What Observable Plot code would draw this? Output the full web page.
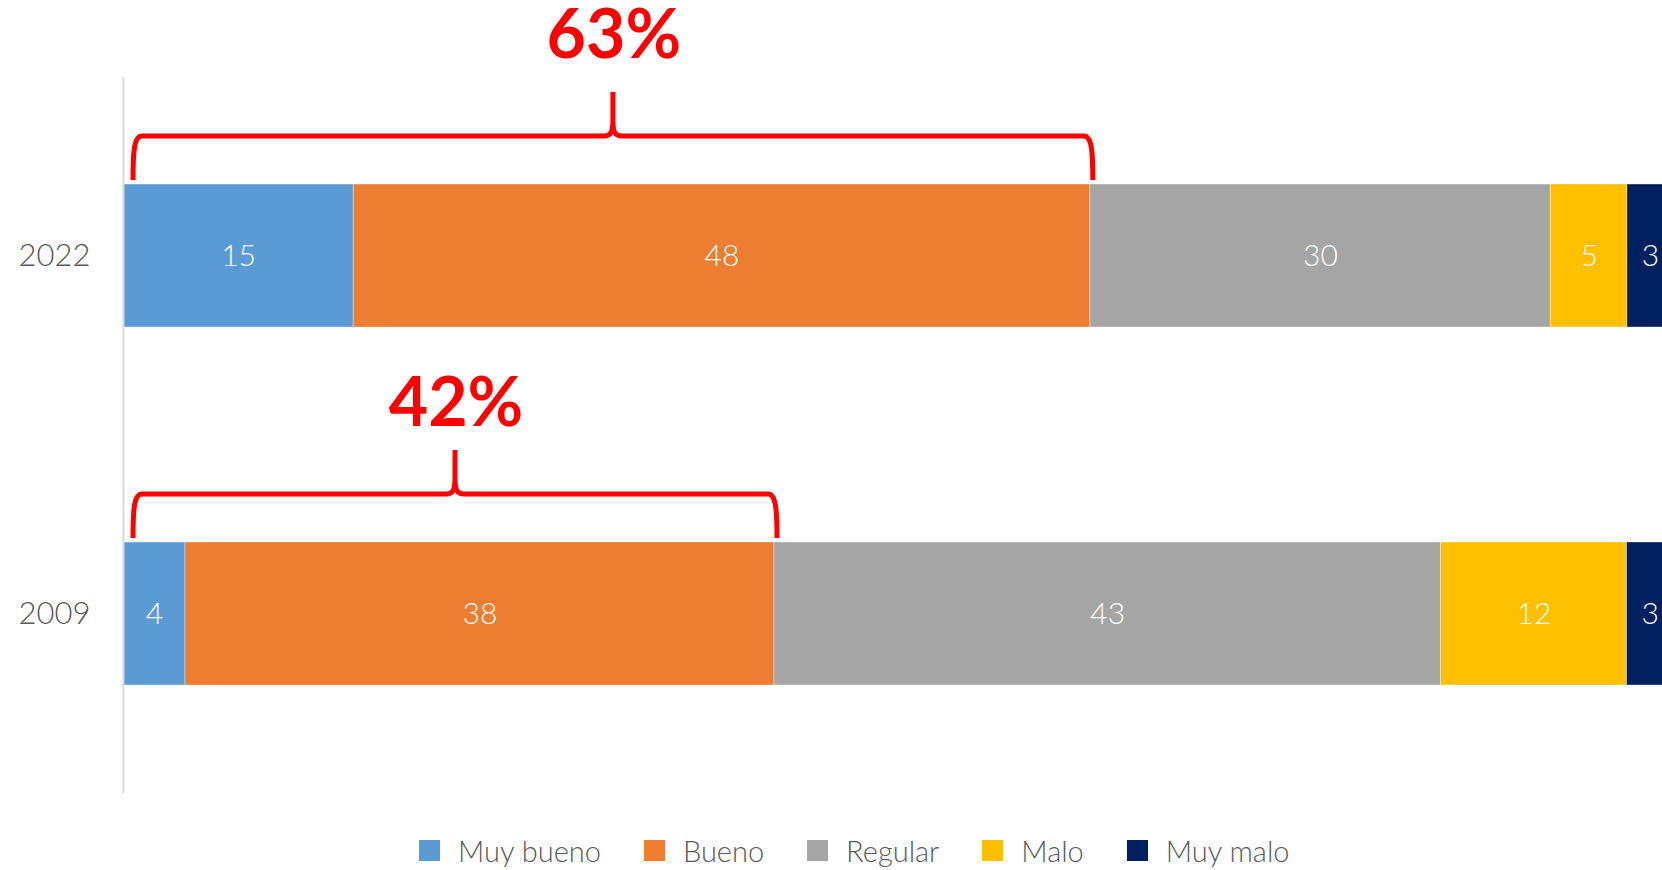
<!DOCTYPE html>
<html>
<head>
<meta charset="utf-8">
<script src="https://cdn.jsdelivr.net/npm/d3@7"></script>
<script src="https://cdn.jsdelivr.net/npm/@observablehq/plot@0.6"></script>
<style>
  html, body { margin: 0; padding: 0; background: #fff; overflow: hidden; }
  body { width: 1662px; height: 870px; font-family: Lato, "Open Sans", sans-serif; }
  #chart svg { display: block; }
  #legend { display: flex; align-items: center; height: 40px; padding-left: 419px; box-sizing: border-box; }
  .item { display: flex; align-items: center; margin-right: 43px; }
  .sw { width: 21px; height: 21px; margin-right: 18px; flex: none; }
  .lab { font-size: 29px; font-weight: 300; color: #595959; line-height: 1; }
</style>
</head>
<body>
<div id="chart"></div>
<div id="legend"></div>
<script>
// ---- data ----
const years = ["2022", "2009"];
const categories = ["Muy bueno", "Bueno", "Regular", "Malo", "Muy malo"];
const colors = ["#5B9BD5", "#ED7D31", "#A5A5A5", "#FFC000", "#002060"];
const values2022 = [15, 48, 30, 5, 3];
const values2009 = [4, 38, 43, 12, 3];

const seriesValues = [values2022, values2009];
const rows = years.flatMap((yr, i) =>
  categories.map((c, j) => ({year: yr, category: c, value: seriesValues[i][j]})));

// highlighted share: Muy bueno + Bueno
const annots = years.map((yr, i) => {
  const v = seriesValues[i];
  const total = d3.sum(v);
  const good = v[0] + v[1];
  return {year: yr, label: good + "%", end: good / total, mid: good / total / 2};
});

const RED = "#ff0000";

function bracketMark(index, scales) {
  const g = d3.create("svg:g").attr("fill", "none").attr("stroke", RED)
    .attr("stroke-width", 5).attr("stroke-linejoin", "round").attr("stroke-linecap", "butt");
  for (const a of annots) {
    const top = scales.y(a.year);
    const x0 = scales.x(0) + 10;
    const x1 = scales.x(a.end) + 3;
    const m = (x0 + x1) / 2;
    const lb = top - 4, h = top - 48, t = top - 92;
    const d =
      `M${x0},${lb} C${x0},${h + 16} ${x0 + 1},${h} ${x0 + 9},${h} L${m - 9},${h} ` +
      `C${m - 2},${h} ${m},${h - 4} ${m},${h - 16} L${m},${t} ` +
      `M${m},${h - 16} C${m},${h - 4} ${m + 2},${h} ${m + 9},${h} L${x1 - 9},${h} ` +
      `C${x1 - 1},${h} ${x1},${h + 16} ${x1},${lb}`;
    g.append("path").attr("d", d);
  }
  return g.node();
}

const chart = Plot.plot({
  width: 1662,
  height: 830,
  marginLeft: 123,
  marginRight: -11,
  marginTop: 77,
  marginBottom: 37,
  style: {fontFamily: "Lato, 'Open Sans', sans-serif", background: "#fff"},
  x: {domain: [0, 1], axis: null},
  y: {domain: years, paddingInner: 0.6, paddingOuter: 0.3, axis: null},
  color: {domain: categories, range: colors},
  marks: [
    Plot.barX(rows, Plot.stackX({
      x: "value", y: "year", fill: "category", offset: "normalize",
      stroke: "#ffffff", strokeWidth: 0.8, strokeOpacity: 0.45
    })),
    Plot.text(rows, Plot.stackX({
      x: "value", y: "year", z: "category", offset: "normalize",
      text: d => String(d.value), fill: "#ffffff", fontSize: 30, fontWeight: 300
    })),
    Plot.ruleX([0], {stroke: "#d9d9d9", strokeWidth: 2}),
    Plot.text(years, {
      x: () => 0, y: d => d, text: d => d, dx: -33, textAnchor: "end",
      fill: "#595959", fontSize: 31, fontWeight: 300
    }),
    bracketMark,
    Plot.text(annots.filter(a => a.year === "2022"), {
      x: "mid", y: "year", text: "label", dx: 7, dy: -220,
      fill: RED, fontSize: 68, fontWeight: 700
    }),
    Plot.text(annots.filter(a => a.year === "2009"), {
      x: "mid", y: "year", text: "label", dx: 7, dy: -210,
      fill: RED, fontSize: 68, fontWeight: 700
    })
  ]
});
document.getElementById("chart").appendChild(chart);

const legend = d3.select("#legend");
categories.forEach((c, i) => {
  const it = legend.append("div").attr("class", "item");
  it.append("div").attr("class", "sw").style("background", colors[i]);
  it.append("span").attr("class", "lab").text(c);
});
</script>
</body>
</html>
